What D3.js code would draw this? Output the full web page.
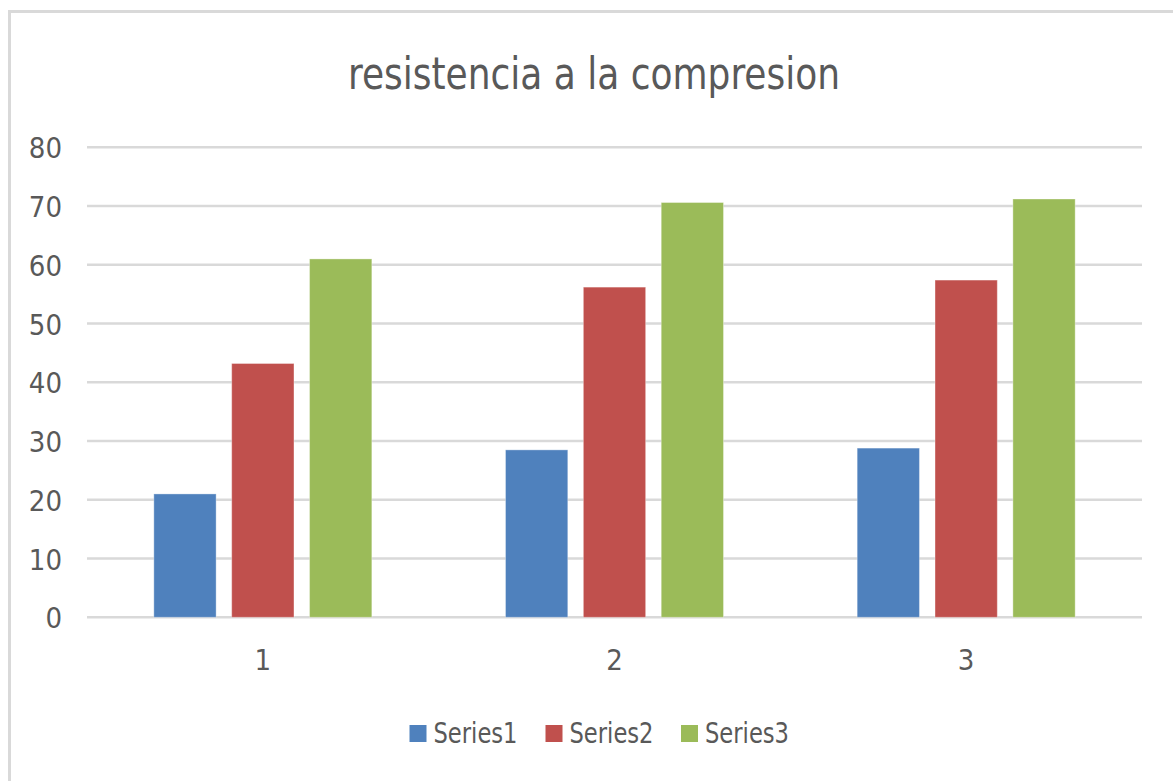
<!DOCTYPE html>
<html>
<head>
<meta charset="utf-8">
<script src="https://cdn.jsdelivr.net/npm/d3@7"></script>
<style>
  html, body { margin: 0; padding: 0; background: #ffffff; }
  svg { display: block; }
  text { font-family: "Liberation Sans Narrow", "DejaVu Sans Condensed", "Open Sans", sans-serif; fill: #595959; }
</style>
</head>
<body>
<svg id="chart" width="1173" height="781"></svg>
<script>
// Chart data
const categories = ["1", "2", "3"];
const seriesNames = ["Series1", "Series2", "Series3"];
const series1 = [21.0, 28.5, 28.8];
const series2 = [43.2, 56.2, 57.4];
const series3 = [61.0, 70.6, 71.2];
const yTicks = [0, 10, 20, 30, 40, 50, 60, 70, 80];
const colors = ["#4f81bd", "#c0504d", "#9bbb59"];
const title = "resistencia a la compresion";

const seriesValues = [series1, series2, series3];

const svg = d3.select("#chart");
const W = 1173, H = 781;
const plot = { left: 87, right: 1142, top: 147.3, bottom: 617.3 };

// Outer frame (top and left edges visible)
svg.append("rect")
  .attr("x", 9.5).attr("y", 11.5)
  .attr("width", W + 20).attr("height", H + 20)
  .attr("fill", "#ffffff")
  .attr("stroke", "#d9d9d9")
  .attr("stroke-width", 3);

// Title
svg.append("text")
  .attr("x", 594).attr("y", 89)
  .attr("text-anchor", "middle")
  .attr("font-size", 45)
  .attr("textLength", 492)
  .attr("lengthAdjust", "spacingAndGlyphs")
  .text(title);

// Scales
const y = d3.scaleLinear().domain([0, 80]).range([plot.bottom, plot.top]);
const x0 = d3.scaleBand().domain(categories).range([plot.left, plot.right]).padding(0);
const groupW = 218;
const x1 = d3.scaleBand().domain(seriesNames)
  .range([(x0.bandwidth() - groupW) / 2, (x0.bandwidth() + groupW) / 2])
  .paddingInner(0.2).paddingOuter(0);

// Gridlines
const grid = svg.append("g");
grid.selectAll("line").data(yTicks).join("line")
  .attr("x1", plot.left).attr("x2", plot.right)
  .attr("y1", d => y(d)).attr("y2", d => y(d))
  .attr("stroke", "#d9d9d9")
  .attr("stroke-width", 2.5);

// Y axis labels
const yAxis = svg.append("g")
  .attr("transform", `translate(${plot.left - 25},0)`)
  .call(d3.axisLeft(y).tickValues(yTicks).tickSize(0).tickPadding(0));
yAxis.select(".domain").remove();
yAxis.selectAll("text")
  .attr("font-size", 29)
  .attr("dy", "0.36em")
  .attr("font-family", null)
  .attr("fill", "#595959");

// X axis labels
const xAxis = svg.append("g")
  .attr("transform", `translate(0,${plot.bottom})`)
  .call(d3.axisBottom(x0).tickSize(0).tickPadding(0));
xAxis.select(".domain").remove();
xAxis.selectAll("text")
  .attr("font-size", 29)
  .attr("y", 53)
  .attr("dy", 0)
  .attr("font-family", null)
  .attr("fill", "#595959");

// Bars
const rows = categories.map((c, i) => ({
  cat: c,
  vals: seriesNames.map((s, j) => ({ name: s, value: seriesValues[j][i], color: colors[j] }))
}));

svg.append("g").selectAll("g").data(rows).join("g")
  .attr("transform", d => `translate(${x0(d.cat)},0)`)
  .selectAll("rect").data(d => d.vals).join("rect")
  .attr("x", d => x1(d.name))
  .attr("y", d => y(d.value))
  .attr("width", x1.bandwidth())
  .attr("height", d => y(0) - y(d.value))
  .attr("fill", d => d.color)
  .attr("stroke", "#ffffff")
  .attr("stroke-opacity", 0.35)
  .attr("stroke-width", 1);

// Legend
const legendX = [409.5, 545.5, 681];
const legend = svg.append("g");
seriesNames.forEach((s, i) => {
  legend.append("rect")
    .attr("x", legendX[i]).attr("y", 725)
    .attr("width", 17).attr("height", 17)
    .attr("fill", colors[i]);
  legend.append("text")
    .attr("x", legendX[i] + 24).attr("y", 743)
    .attr("font-size", 29)
    .attr("textLength", 84)
    .attr("lengthAdjust", "spacingAndGlyphs")
    .text(s);
});
</script>
</body>
</html>
